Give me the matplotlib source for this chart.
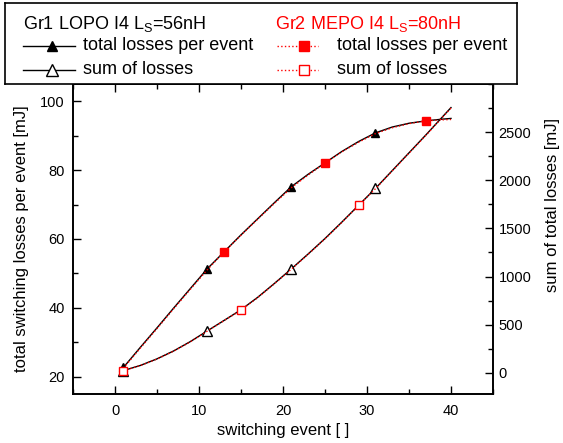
import matplotlib
matplotlib.use("Agg")
import matplotlib.pyplot as plt
from matplotlib.lines import Line2D
from matplotlib.ticker import MultipleLocator, FixedLocator

plt.rcParams['font.family'] = ['Liberation Sans', 'DejaVu Sans']
plt.rcParams['mathtext.default'] = 'regular'

# ---- data ----
# Gr1 LOPO: total losses per event [mJ] (left axis)
gr1_event_x = [1, 3, 5, 7, 9, 11, 13, 15, 17, 19, 21, 23, 25, 27, 29, 31, 33, 35, 37, 39, 40]
gr1_event_y = [22.7, 28.5, 34.2, 40.0, 45.7, 51.4, 56.3, 61.2, 65.9, 70.6, 75.2, 78.8,
               82.1, 85.4, 88.3, 90.8, 92.5, 93.6, 94.3, 94.8, 95.0]
gr1_event_markers = [1, 11, 21, 31]
# Gr1 LOPO: sum of losses [mJ] (right axis)
gr1_sum_x = [1, 3, 5, 7, 9, 11, 13, 15, 17, 19, 21, 23, 25, 27, 29, 31, 33, 35, 37, 39, 40]
gr1_sum_y = [23, 76, 145, 228, 326, 436, 545, 655, 785, 930, 1080, 1235, 1395, 1565,
             1740, 1915, 2100, 2285, 2470, 2660, 2755]
gr1_sum_markers = [1, 11, 21, 31]

# Gr2 MEPO: total losses per event [mJ] (left axis)
gr2_event_x = [1, 3, 5, 7, 9, 11, 13, 15, 17, 19, 21, 23, 25, 27, 29, 31, 33, 35, 37, 39, 40]
gr2_event_y = [22.5, 28.3, 34.0, 39.8, 45.5, 51.1, 56.3, 61.1, 65.8, 70.4, 74.9, 78.6,
               82.1, 85.3, 88.1, 90.6, 92.3, 93.5, 94.3, 94.6, 94.7]
gr2_event_markers = [13, 25, 37]
# Gr2 MEPO: sum of losses [mJ] (right axis)
gr2_sum_x = [1, 3, 5, 7, 9, 11, 13, 15, 17, 19, 21, 23, 25, 27, 29, 31, 33, 35, 37, 39, 40]
gr2_sum_y = [22, 75, 143, 226, 324, 434, 543, 652, 782, 927, 1077, 1232, 1392, 1562,
             1738, 1912, 2097, 2282, 2466, 2656, 2750]
gr2_sum_markers = [1, 15, 29]

gr1_label = r'Gr1 LOPO I4 L$_S$=56nH'
gr2_label = r'Gr2 MEPO I4 L$_S$=80nH'
series_labels = ['total losses per event', 'sum of losses']
x_label = 'switching event [ ]'
y_label = 'total switching losses per event [mJ]'
y2_label = 'sum of total losses [mJ]'
left_ticks = [20, 40, 60, 80, 100]
right_ticks = [0, 500, 1000, 1500, 2000, 2500]
x_ticks = [0, 10, 20, 30, 40]

W, H = 563, 443
fig = plt.figure(figsize=(W / 100, H / 100), dpi=100)

def idx(xs, marks):
    return [list(xs).index(m) for m in marks]

# main axes
ax = fig.add_axes([73 / W, (H - 394) / H, (493 - 73) / W, (394 - 84) / H])
ax2 = ax.twinx()

ax.set_xlim(-5, 45)
ax.set_ylim(15, 105)
ax2.set_ylim(-220, 3000)

red = '#ff0000'
lw = 1.0
ms = 6

ax.plot(gr1_event_x, gr1_event_y, '-', color='black', lw=lw, marker='^', ms=ms,
        mfc='black', mec='black', markevery=idx(gr1_event_x, gr1_event_markers), zorder=3)
ax2.plot(gr1_sum_x, gr1_sum_y, '-', color='black', lw=lw, marker='^', ms=ms + 1,
         mfc='white', mec='black', markevery=idx(gr1_sum_x, gr1_sum_markers), zorder=3)
ax.plot(gr2_event_x, gr2_event_y, ':', color=red, lw=lw, marker='s', ms=ms,
        mfc=red, mec=red, markevery=idx(gr2_event_x, gr2_event_markers), zorder=4)
ax2.plot(gr2_sum_x, gr2_sum_y, ':', color=red, lw=lw, marker='s', ms=ms,
         mfc='white', mec=red, markevery=idx(gr2_sum_x, gr2_sum_markers), zorder=4)

ax.xaxis.set_major_locator(FixedLocator(x_ticks))
ax.xaxis.set_minor_locator(MultipleLocator(5))
ax.yaxis.set_major_locator(FixedLocator(left_ticks))
ax.yaxis.set_minor_locator(MultipleLocator(10))
ax2.yaxis.set_major_locator(FixedLocator(right_ticks))
ax2.yaxis.set_minor_locator(MultipleLocator(250))

fs_tick = 10.5
ax.tick_params(axis='x', which='both', direction='in', top=True, bottom=True, labelsize=fs_tick, pad=7)
ax.tick_params(axis='y', which='both', direction='in', right=False, labelsize=fs_tick, pad=6)
ax2.tick_params(axis='y', which='both', direction='in', labelsize=fs_tick, pad=4)
for a in (ax, ax2):
    a.tick_params(which='major', length=5.5, width=1.0)
    a.tick_params(which='minor', length=3.5, width=1.0)
    for s in a.spines.values():
        s.set_linewidth(1.2)

ax.set_xlabel(x_label, fontsize=12, labelpad=4)
ax.set_ylabel(y_label, fontsize=12, labelpad=8)
ax2.set_ylabel(y2_label, fontsize=12)
ax2.yaxis.set_label_coords(1.125, 0.61)

# legend box (pixel coordinates)
lg = fig.add_axes([5 / W, (H - 84) / H, 512 / W, 81 / H])
lg.set_xlim(5, 517)
lg.set_ylim(84, 3)
lg.set_xticks([])
lg.set_yticks([])
for s in lg.spines.values():
    s.set_linewidth(1.2)

fs_leg = 13
lg.text(23, 24, gr1_label, fontsize=fs_leg, va='center', ha='left', color='black')
lg.text(275, 24, gr2_label, fontsize=fs_leg, va='center', ha='left', color=red)
rows = [46, 70]
for r, lab in zip(rows, series_labels):
    lg.text(83, r, lab, fontsize=fs_leg, va='center', ha='left')
    lg.text(337, r, lab, fontsize=fs_leg, va='center', ha='left')
lg.add_line(Line2D([23, 75], [rows[0], rows[0]], color='black', lw=lw))
lg.add_line(Line2D([52], [rows[0]], marker='^', ms=ms + 1, mfc='black', mec='black', ls='none'))
lg.add_line(Line2D([23, 75], [rows[1], rows[1]], color='black', lw=lw))
lg.add_line(Line2D([52], [rows[1]], marker='^', ms=ms + 2, mfc='white', mec='black', ls='none'))
lg.add_line(Line2D([277, 318], [rows[0], rows[0]], color=red, lw=lw, ls=':'))
lg.add_line(Line2D([304], [rows[0]], marker='s', ms=ms + 1, mfc=red, mec=red, ls='none'))
lg.add_line(Line2D([277, 318], [rows[1], rows[1]], color=red, lw=lw, ls=':'))
lg.add_line(Line2D([304], [rows[1]], marker='s', ms=ms + 1, mfc='white', mec=red, ls='none'))

fig.savefig('out.png', dpi=100)
